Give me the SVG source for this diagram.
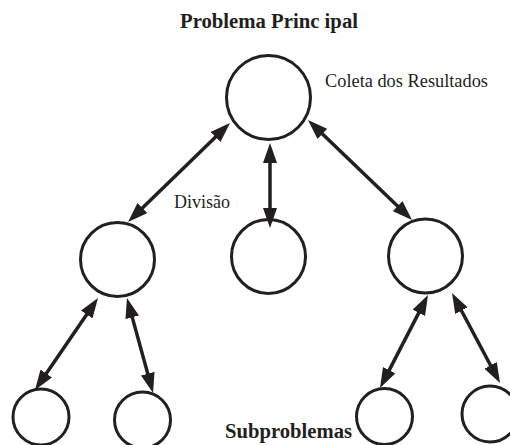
<svg xmlns="http://www.w3.org/2000/svg" width="510" height="445" viewBox="0 0 510 445">
<style>
.node{fill:none;stroke:#231f20;stroke-width:3}
.conn line{stroke:#231f20;stroke-width:3.5}
.t{font-family:"Liberation Serif","Times New Roman",serif;fill:#231f20}
.b{font-weight:bold;font-size:20px}
.r{font-size:18px}
</style>
<defs>
<marker id="ah" markerUnits="userSpaceOnUse" markerWidth="20" markerHeight="14" refX="10" refY="7" orient="auto-start-reverse">
<path d="M0,0 L20,7 L0,14 z" fill="#231f20"/>
</marker>
</defs>
<rect width="510" height="445" fill="#fff"/>
<text class="t b" x="180" y="28" textLength="178" lengthAdjust="spacingAndGlyphs">Problema Princ ipal</text>
<text class="t r" x="325" y="87" textLength="163" lengthAdjust="spacingAndGlyphs">Coleta dos Resultados</text>
<text class="t r" x="174" y="208" textLength="56" lengthAdjust="spacingAndGlyphs">Divisão</text>
<text class="t b" x="225" y="438" textLength="127" lengthAdjust="spacingAndGlyphs">Subproblemas</text>
<g id="n-root"><circle class="node" cx="268.5" cy="97.5" r="42"/></g>
<g id="n-left"><circle class="node" cx="117.5" cy="259.5" r="37"/></g>
<g id="n-mid"><circle class="node" cx="268.5" cy="256.5" r="37"/></g>
<g id="n-right"><circle class="node" cx="425.5" cy="256" r="37"/></g>
<g id="n-ll"><circle class="node" cx="41" cy="417" r="28"/></g>
<g id="n-lr"><circle class="node" cx="142.5" cy="420" r="28"/></g>
<g id="n-rl"><circle class="node" cx="384.5" cy="416.5" r="28"/></g>
<g id="n-rr"><circle class="node" cx="490" cy="414" r="28"/></g>
<g class="conn" id="connectors">
<line x1="222.8" y1="130" x2="135.2" y2="215" marker-start="url(#ah)" marker-end="url(#ah)"/>
<line x1="270" y1="153" x2="270" y2="218" marker-start="url(#ah)" marker-end="url(#ah)"/>
<line x1="315.2" y1="126.9" x2="404.8" y2="213.1" marker-start="url(#ah)" marker-end="url(#ah)"/>
<line x1="92.35" y1="306.25" x2="40.65" y2="381.75" marker-start="url(#ah)" marker-end="url(#ah)"/>
<line x1="129.6" y1="307.6" x2="150.4" y2="383.4" marker-start="url(#ah)" marker-end="url(#ah)"/>
<line x1="423.4" y1="303.9" x2="384.6" y2="379.1" marker-start="url(#ah)" marker-end="url(#ah)"/>
<line x1="456.7" y1="301.8" x2="495.3" y2="374.2" marker-start="url(#ah)" marker-end="url(#ah)"/>
</g>
</svg>
